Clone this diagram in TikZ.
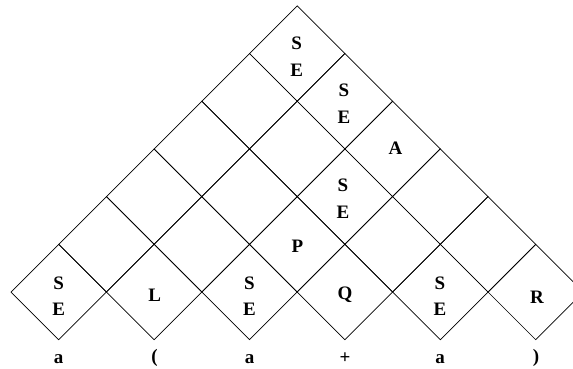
\documentclass[tikz,border=0pt]{standalone}
\usepackage{fontspec}
\setmainfont{Liberation Serif}
\begin{document}
\begin{tikzpicture}[x=1pt,y=-1pt,
  cell/.style={draw=black,line width=0.7pt},
  lab/.style={inner sep=0pt,align=center,font=\bfseries\fontsize{19}{26.5}\selectfont},
  word/.style={inner sep=0pt,anchor=base,font=\bfseries\fontsize{19}{22}\selectfont}]
\useasboundingbox (0,0) rectangle (573,368);
\def\h{47.7}
\foreach \r in {0,...,5}{
  \pgfmathtruncatemacro\n{5-\r}
  \foreach \k in {0,...,\n}{
    \pgfmathsetmacro\cx{58.7+47.7*\r+95.4*\k}
    \pgfmathsetmacro\cy{292-47.7*\r}
    \draw[cell] (\cx-\h,\cy) -- (\cx,\cy-\h) -- (\cx+\h,\cy) -- (\cx,\cy+\h) -- cycle;
  }
}
% bottom row
\node[lab] (c00) at (58.7,296) {S\\E};
\node[lab] (c01) at (154.6,295) {L};
\node[lab] (c02) at (249.5,296) {S\\E};
\node[lab] (c03) at (345,295) {Q};
\node[lab] (c04) at (440,296) {S\\E};
\node[lab] (c05) at (537,297) {R};
% upper rows
\node[lab] (c12) at (297.5,246) {P};
\node[lab] (c22) at (343,198.5) {S\\E};
\node[lab] (c32) at (395.5,148) {A};
\node[lab] (c41) at (344,103.5) {S\\E};
\node[lab] (c50) at (296.7,56.5) {S\\E};
% input word
\node[word] (w0) at (58.7,363) {a};
\node[word] (w1) at (154.6,362.5) {(};
\node[word] (w2) at (249.5,363) {a};
\node[word] (w3) at (345,363) {+};
\node[word] (w4) at (440,363) {a};
\node[word] (w5) at (536,362.5) {)};
\end{tikzpicture}
\end{document}
